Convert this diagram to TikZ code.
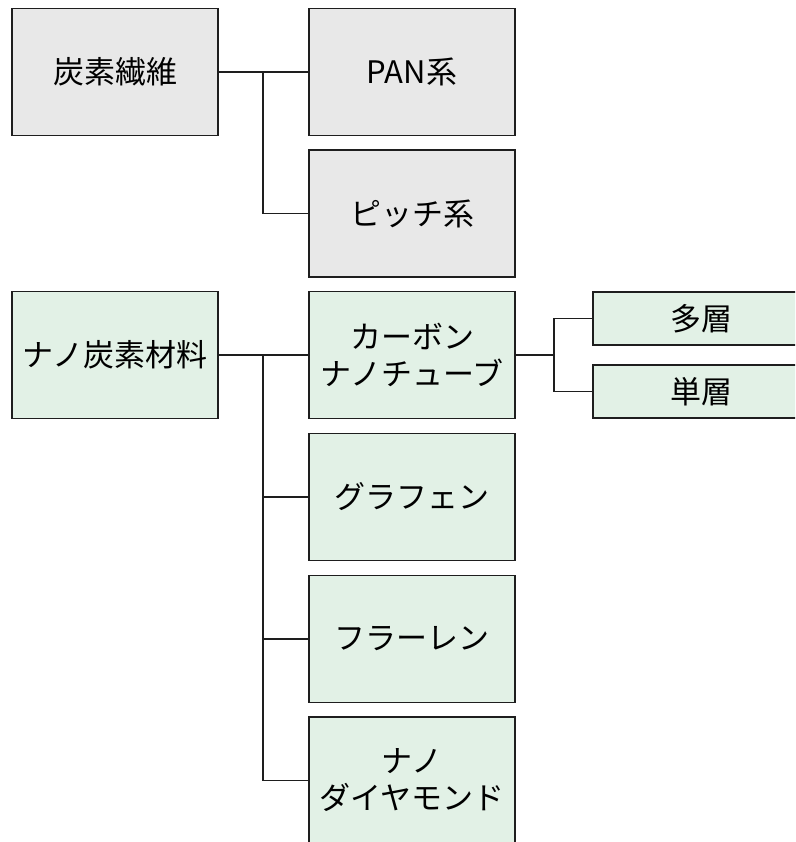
\documentclass[tikz,border=0pt]{standalone}
\usepackage{fontspec}
\setmainfont{Noto Sans CJK JP}
\definecolor{grayfill}{HTML}{E8E8E8}
\definecolor{greenfill}{HTML}{E2F1E6}
\definecolor{edge}{HTML}{1E1E1E}
\begin{document}
\begin{tikzpicture}[x=1pt,y=-1pt,
  box/.style={draw=edge, line width=1.8pt, rectangle, inner sep=0pt,
    minimum width=206pt, minimum height=127pt, align=center,
    font=\fontsize{31}{37}\selectfont},
  graybox/.style={box, fill=grayfill},
  greenbox/.style={box, fill=greenfill},
  smallbox/.style={box, fill=greenfill, minimum width=217pt, minimum height=53pt},
  link/.style={draw=edge, line width=1.8pt}]
\useasboundingbox (0,0) rectangle (795,842);
\clip (0,0) rectangle (795,842);
\node[graybox] (cf) at (115,72) {炭素繊維};
\node[graybox] (pan) at (412,72) {PAN系};
\node[graybox] (pitch) at (412,213.5) {ピッチ系};
\node[greenbox] (nano) at (115,355) {ナノ炭素材料};
\node[greenbox] (cnt) at (412,355) {カーボン\\ナノチューブ};
\node[greenbox] (gra) at (412,497) {グラフェン};
\node[greenbox] (ful) at (412,639) {フラーレン};
\node[greenbox] (dia) at (412,780.5) {ナノ\\ダイヤモンド};
\node[smallbox] (multi) at (701.5,318.5) {多層};
\node[smallbox] (single) at (701.5,391.5) {単層};
\coordinate (j1) at (263,72);
\coordinate (j2) at (263,355);
\coordinate (j3) at (554,355);
\draw[link] (cf) -- (pan);
\draw[link] (j1) |- (pitch.west);
\draw[link] (nano) -- (cnt);
\draw[link] (j2) |- (gra.west);
\draw[link] (j2) |- (ful.west);
\draw[link] (j2) |- (dia.west);
\draw[link] (cnt.east) -- (j3);
\draw[link] (j3) |- (multi.west);
\draw[link] (j3) |- (single.west);
\end{tikzpicture}
\end{document}
